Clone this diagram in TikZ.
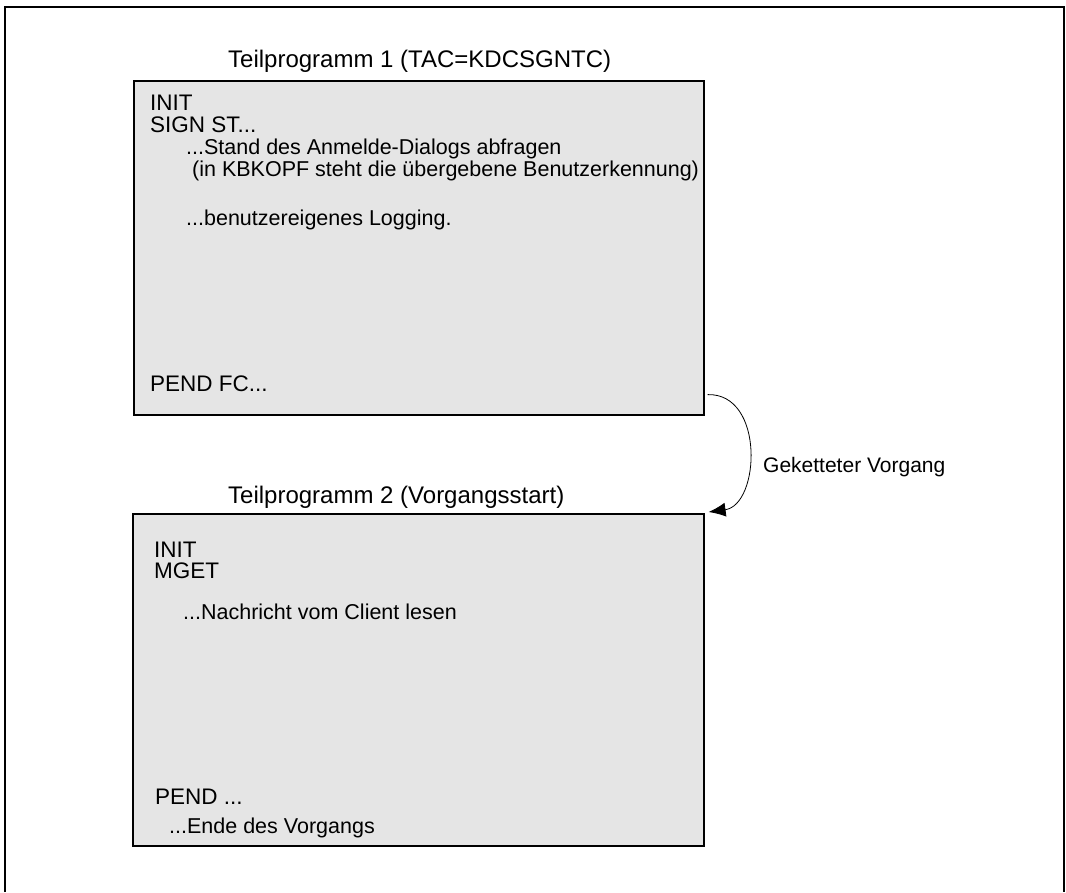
\documentclass[tikz,border=0pt]{standalone}
\usepackage{fontspec}
\setmainfont{Liberation Sans}
\usetikzlibrary{arrows.meta, positioning}
\definecolor{progbg}{HTML}{E5E5E5}
\tikzset{
  % Rahmen und Teilprogramm-Kasten
  rahmen/.style={line width=1.6pt, black},
  progbox/.style={draw=black, line width=1.6pt, fill=progbg, anchor=north west,
    inner sep=0pt},
  % Texte
  titel/.style={anchor=base west, inner sep=0pt, font=\fontsize{24}{28}\selectfont},
  cmd/.style={anchor=base west, inner sep=0pt, font=\fontsize{22.5}{26}\selectfont},
  kommentar/.style={anchor=base west, inner sep=0pt, font=\fontsize{21.5}{26}\selectfont},
  lbl/.style={anchor=base west, inner sep=0pt, font=\fontsize{21}{25}\selectfont},
  % Verkettung
  msg/.style={-{Latex[length=17pt, width=14pt]}, line width=0.8pt},
}
\begin{document}
\begin{tikzpicture}[x=1pt, y=-1pt]
  \useasboundingbox (0,0) rectangle (1066,892);
  \draw[rahmen] (5,892) -- (5,7) -- (1064,7) -- (1064,892);

  % Teilprogramm 1
  \node[progbox, minimum width=570pt, minimum height=334pt] (tp1) at (133,80) {};
  \node[titel] (t1) at (228,67) {Teilprogramm 1 (TAC=KDCSGNTC)};
  \node[cmd] (init1) at (150,110) {INIT};
  \node[cmd] (sign) at (150,132) {SIGN ST...};
  \node[kommentar] (stand) at (186,154) {...Stand des Anmelde-Dialogs abfragen};
  \node[kommentar] (kbkopf) at (192,176) {(in KBKOPF steht die übergebene Benutzerkennung)};
  \node[kommentar] (logging) at (186,225) {...benutzereigenes Logging.};
  \node[cmd] (pend1) at (150,391) {PEND FC...};

  % Teilprogramm 2
  \node[progbox, minimum width=571pt, minimum height=332pt] (tp2) at (132,513) {};
  \node[titel] (t2) at (228,503) {Teilprogramm 2 (Vorgangsstart)};
  \node[cmd] (init2) at (154,557) {INIT};
  \node[cmd] (mget) at (154,578) {MGET};
  \node[kommentar] (nachricht) at (183,619) {...Nachricht vom Client lesen};
  \node[cmd] (pend2) at (155,804) {PEND ...};
  \node[kommentar] (ende) at (169,833) {...Ende des Vorgangs};

  % geketteter Vorgang
  \coordinate (von) at ([xshift=3pt, yshift=21pt]tp1.south east);
  \coordinate (nach) at ([xshift=4pt, yshift=1pt]tp2.north east);
  \draw[msg] (von) .. controls (765,393) and (760,505) .. (nach);
  \node[lbl] (kette) at (763,472) {Geketteter Vorgang};
\end{tikzpicture}
\end{document}
